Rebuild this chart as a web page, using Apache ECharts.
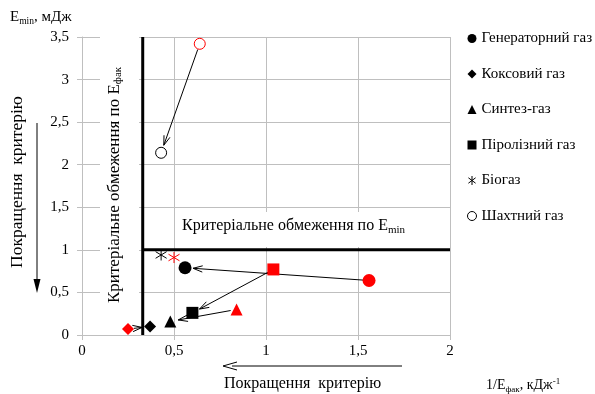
<!DOCTYPE html>
<html>
<head>
<meta charset="utf-8">
<script src="https://cdn.jsdelivr.net/npm/echarts@6/dist/echarts.min.js"></script>
<style>
  html, body { margin: 0; padding: 0; background: #fff; }
  #chart { width: 595px; height: 394px; }
</style>
</head>
<body>
<div id="chart"></div>
<script>
// Gas types
const gases = ['Генераторний газ', 'Коксовий газ', 'Синтез-газ', 'Піролізний газ', 'Біогаз', 'Шахтний газ'];
// Initial state (red markers): 1/Eфак, кДж^-1 and Emin, мДж
const beforeX = [1.56, 0.25, 0.84, 1.04, 0.50, 0.64];
const beforeY = [0.64, 0.07, 0.30, 0.77, 0.91, 3.42];
// Improved state (black markers)
const afterX = [0.56, 0.37, 0.48, 0.60, 0.43, 0.43];
const afterY = [0.79, 0.10, 0.16, 0.26, 0.94, 2.14];
// Gases whose shift is shown with an arrow
const arrowGases = [0, 1, 2, 3, 5];
// Criterion limits
const limitX = 0.33;
const limitY = 1;
// Axis ranges
const xRange = [0, 2, 0.5];
const yRange = [0, 3.5, 0.5];

const SERIF = 'Liberation Serif';
const starPath = 'path://M5,0 L5,10 M1,2 L9,8 M1,8 L9,2';
const symbols = ['circle', 'diamond', 'triangle', 'rect', starPath, 'circle'];
const sizes = [13, 12, 12, 12, 11, 11];
const RED = '#ff0000';

const comma = v => String(v).replace('.', ',');

const outlineStyle = (c) => ({ color: 'rgba(0,0,0,0)', borderColor: c, borderWidth: 1, opacity: 1 });
const hollowStyle = (c) => ({ color: '#fff', borderColor: c, borderWidth: 1, opacity: 1 });

const pointSeries = gases.map((name, i) => {
  let base, red;
  if (i === 4) {
    base = outlineStyle('#000');
    red = outlineStyle(RED);
  } else if (i === 5) {
    base = hollowStyle('#000');
    red = hollowStyle(RED);
  } else {
    base = { color: '#000', opacity: 1 };
    red = { color: RED, opacity: 1 };
  }
  return {
    name,
    type: 'scatter',
    symbol: symbols[i],
    symbolSize: sizes[i],
    itemStyle: base,
    z: 5,
    data: [
      { value: [beforeX[i], beforeY[i]], itemStyle: red },
      { value: [afterX[i], afterY[i]] }
    ]
  };
});

const legendData = gases.map((name, i) => {
  if (i === 4) return { name, itemStyle: outlineStyle('#000') };
  if (i === 5) return { name, itemStyle: hollowStyle('#000') };
  return { name };
});

const arrowData = arrowGases.map(i => [beforeX[i], beforeY[i], afterX[i], afterY[i]]);

function renderArrow(params, api) {
  const p1 = api.coord([api.value(0), api.value(1)]);
  const p2 = api.coord([api.value(2), api.value(3)]);
  const dx = p2[0] - p1[0], dy = p2[1] - p1[1];
  const len = Math.hypot(dx, dy);
  const ux = dx / len, uy = dy / len;
  const startGap = 6, endGap = 8;
  const s = [p1[0] + ux * startGap, p1[1] + uy * startGap];
  const e = [p2[0] - ux * endGap, p2[1] - uy * endGap];
  const L = 10, ang = 0.32;
  const rot = (a) => [
    e[0] - L * (ux * Math.cos(a) - uy * Math.sin(a)),
    e[1] - L * (ux * Math.sin(a) + uy * Math.cos(a))
  ];
  return {
    type: 'group',
    children: [
      { type: 'line', shape: { x1: s[0], y1: s[1], x2: e[0], y2: e[1] }, style: { stroke: '#000', lineWidth: 1 } },
      { type: 'polyline', shape: { points: [rot(ang), e, rot(-ang)] }, style: { stroke: '#000', fill: null, lineWidth: 1 } }
    ]
  };
}

const chart = echarts.init(document.getElementById('chart'), null, { renderer: 'canvas' });

chart.setOption({
  animation: false,
  backgroundColor: '#fff',
  textStyle: { fontFamily: SERIF },
  grid: { left: 82, right: 145, top: 37, bottom: 59, containLabel: false },
  xAxis: {
    type: 'value',
    min: xRange[0], max: xRange[1], interval: xRange[2],
    axisLine: { show: true, lineStyle: { color: '#bfbfbf' } },
    axisTick: { show: true, length: 5, lineStyle: { color: '#bfbfbf' } },
    splitLine: { show: true, lineStyle: { color: '#bfbfbf' } },
    axisLabel: { color: '#000', fontSize: 15, fontFamily: SERIF, margin: 9, formatter: comma }
  },
  yAxis: {
    type: 'value',
    min: yRange[0], max: yRange[1], interval: yRange[2],
    axisLine: { show: true, lineStyle: { color: '#bfbfbf' } },
    axisTick: { show: true, length: 5, lineStyle: { color: '#bfbfbf' } },
    splitLine: { show: true, lineStyle: { color: '#bfbfbf' } },
    axisLabel: { color: '#000', fontSize: 15, fontFamily: SERIF, margin: 13, formatter: comma }
  },
  legend: {
    orient: 'vertical',
    left: 467, top: 31,
    padding: 0,
    itemWidth: 9, itemHeight: 9,
    itemGap: 20.5,
    data: legendData,
    textStyle: { color: '#000', fontSize: 15, fontFamily: SERIF, lineHeight: 15 }
  },
  series: [
    {
      type: 'line', silent: true, symbol: 'none', z: 3,
      lineStyle: { color: '#000', width: 3 },
      data: [[limitX, yRange[0]], [limitX, yRange[1]]]
    },
    {
      type: 'line', silent: true, symbol: 'none', z: 3,
      lineStyle: { color: '#000', width: 3 },
      data: [[limitX, limitY], [xRange[1], limitY]]
    },
    {
      type: 'custom', silent: true, z: 4,
      renderItem: renderArrow,
      encode: { x: [0, 2], y: [1, 3] },
      data: arrowData
    },
    ...pointSeries
  ],
  graphic: [
    // white panels behind the limit captions
    { type: 'rect', z: 1, shape: { x: 175, y: 212, width: 246, height: 35 }, style: { fill: '#fff' } },
    { type: 'rect', z: 1, shape: { x: 100, y: 30, width: 39, height: 282 }, style: { fill: '#fff' } },
    // y-axis title
    {
      type: 'text', z: 10, left: 10, top: 10,
      style: {
        text: '{m|E}{s|min}{m|, мДж}',
        rich: {
          m: { fontSize: 15, fontFamily: SERIF, fill: '#000' },
          s: { fontSize: 9.5, fontFamily: SERIF, fill: '#000', padding: [8, 0, 0, 0] }
        }
      }
    },
    // x-axis title
    {
      type: 'text', z: 10, left: 486, top: 377,
      style: {
        text: '{m|1/E}{s|фак}{m|, кДж}{p|-1}',
        rich: {
          m: { fontSize: 14, fontFamily: SERIF, fill: '#000' },
          s: { fontSize: 9, fontFamily: SERIF, fill: '#000', padding: [8, 0, 0, 0] },
          p: { fontSize: 9, fontFamily: SERIF, fill: '#000', padding: [0, 0, 8, 0] }
        }
      }
    },
    // horizontal limit caption
    {
      type: 'text', z: 10, left: 182, top: 218,
      style: {
        text: '{m|Критеріальне обмеження по E}{s|min}',
        rich: {
          m: { fontSize: 16, fontFamily: SERIF, fill: '#000' },
          s: { fontSize: 11, fontFamily: SERIF, fill: '#000', padding: [8, 0, 0, 0] }
        }
      }
    },
    // vertical limit caption
    {
      type: 'text', z: 10, x: 105, y: 303, rotation: Math.PI / 2,
      style: {
        text: '{m|Критеріальне обмеження по E}{s|фак}',
        rich: {
          m: { fontSize: 17, fontFamily: SERIF, fill: '#000' },
          s: { fontSize: 11, fontFamily: SERIF, fill: '#000', padding: [8, 0, 0, 0] }
        }
      }
    },
    // left improvement caption and arrow
    {
      type: 'text', z: 10, x: 8, y: 268, rotation: Math.PI / 2,
      style: { text: 'Покращення  критерію', fontSize: 17.5, fontFamily: SERIF, fill: '#000' }
    },
    {
      type: 'line', z: 10, shape: { x1: 37, y1: 123, x2: 37, y2: 284 },
      style: { stroke: '#000', lineWidth: 1 }
    },
    {
      type: 'polygon', z: 10, shape: { points: [[33.5, 279], [37, 293], [40.5, 279]] },
      style: { fill: '#000' }
    },
    // bottom improvement caption and arrow
    {
      type: 'text', z: 10, left: 224, top: 376,
      style: { text: 'Покращення  критерію', fontSize: 16, fontFamily: SERIF, fill: '#000' }
    },
    {
      type: 'line', z: 10, shape: { x1: 232, y1: 366, x2: 402, y2: 366 },
      style: { stroke: '#000', lineWidth: 1 }
    },
    {
      type: 'polyline', z: 10, shape: { points: [[237, 362], [223, 366], [237, 370]] },
      style: { stroke: '#000', fill: null, lineWidth: 1 }
    }
  ]
});
</script>
</body>
</html>
